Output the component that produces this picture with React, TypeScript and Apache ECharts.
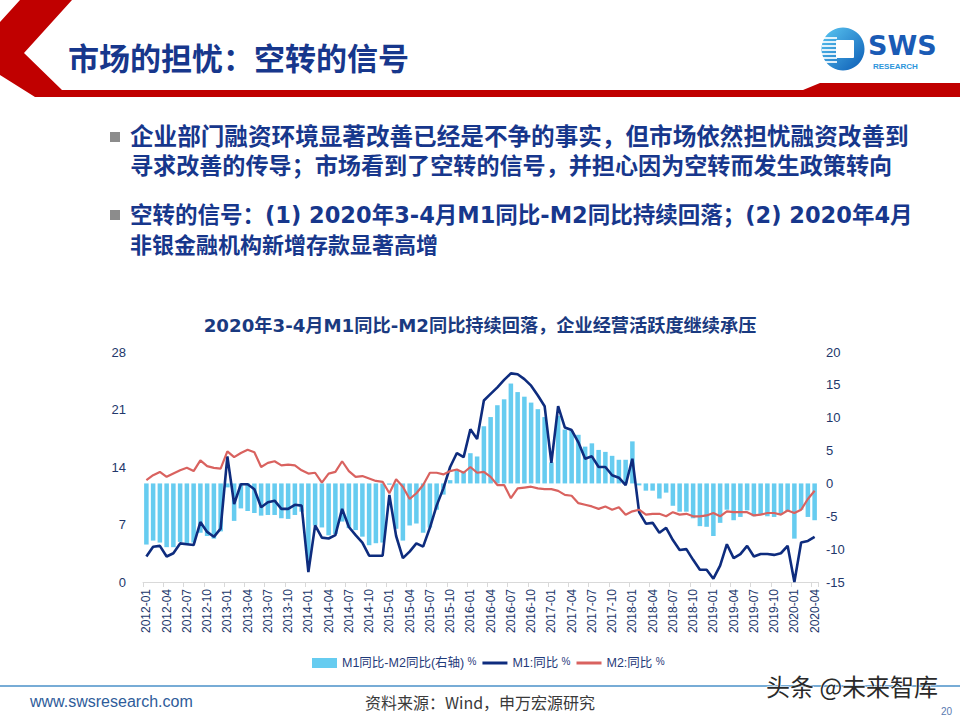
import React, { useEffect, useRef } from "react";
import * as echarts from "echarts";

// Month labels 2012-01 … 2020-04
const months: string[] = [];
for (let y = 2012; y <= 2020; y++) {
  for (let m = 1; m <= 12; m++) {
    if (y === 2020 && m > 4) break;
    months.push(`${y}-${String(m).padStart(2, "0")}`);
  }
}

// M1 同比 (%)
const m1Yoy: number[] = [
  3.1, 4.3, 4.4, 3.1, 3.5, 4.7, 4.6, 4.5, 7.3, 6.1, 5.5, 6.5,
  15.3, 9.5, 11.9, 11.9, 11.3, 9.1, 9.7, 9.9, 8.9, 8.9, 9.4, 9.3,
  1.2, 6.9, 5.4, 5.3, 5.7, 8.9, 6.7, 5.7, 4.8, 3.2, 3.2, 3.2,
  10.6, 5.6, 2.9, 3.7, 4.7, 4.3, 6.6, 9.3, 11.4, 14.0, 15.7, 15.2,
  18.6, 17.4, 22.1, 22.9, 23.7, 24.6, 25.4, 25.3, 24.7, 23.9, 22.7, 21.4,
  14.5, 21.4, 18.8, 18.5, 17.0, 15.0, 15.3, 14.0, 14.0, 13.0, 12.7, 11.8,
  15.0, 8.5, 7.1, 7.2, 6.0, 6.6, 5.1, 3.9, 4.0, 2.7, 1.5, 1.5,
  0.4, 2.0, 4.6, 2.9, 3.4, 4.4, 3.1, 3.4, 3.4, 3.3, 3.5, 4.4,
  0.0, 4.8, 5.0, 5.5,
];

// M2 同比 (%)
const m2Yoy: number[] = [
  12.4, 13.0, 13.4, 12.8, 13.2, 13.6, 13.9, 13.5, 14.8, 14.1, 13.9, 13.8,
  15.9, 15.2, 15.7, 16.1, 15.8, 14.0, 14.5, 14.7, 14.2, 14.3, 14.2, 13.6,
  13.2, 13.3, 12.1, 13.2, 13.4, 14.7, 13.5, 12.8, 12.9, 12.6, 12.3, 12.2,
  10.8, 12.5, 11.6, 10.1, 10.8, 11.8, 13.3, 13.3, 13.1, 13.5, 13.7, 13.3,
  14.0, 13.3, 13.4, 12.8, 11.8, 11.8, 10.2, 11.4, 11.5, 11.6, 11.4, 11.3,
  11.3, 11.1, 10.6, 10.5, 9.6, 9.4, 9.2, 8.9, 9.2, 8.8, 9.1, 8.2,
  8.6, 8.8, 8.2, 8.3, 8.3, 8.0, 8.5, 8.2, 8.3, 8.0, 8.0, 8.1,
  8.4, 8.0, 8.6, 8.5, 8.5, 8.5, 8.1, 8.2, 8.4, 8.4, 8.2, 8.7,
  8.4, 8.8, 10.1, 11.1,
];

// M1同比 - M2同比 (右轴, %)
const m1m2Gap: number[] = [
  -9.3, -8.7, -9.0, -9.7, -9.7, -8.9, -9.3, -9.0, -7.5, -8.0, -8.4, -7.3,
  -0.6, -5.7, -3.8, -4.2, -4.5, -4.9, -4.8, -4.8, -5.3, -5.4, -4.8, -4.3,
  -12.0, -6.4, -6.7, -7.9, -7.7, -5.8, -6.8, -7.1, -8.1, -9.4, -9.1, -9.0,
  -0.2, -6.9, -8.7, -6.4, -6.1, -7.5, -6.7, -4.0, -1.7, 0.5, 2.0, 1.9,
  4.6, 4.1, 8.7, 10.1, 11.9, 12.8, 15.2, 13.9, 13.2, 12.3, 11.3, 10.1,
  3.2, 10.3, 8.2, 8.0, 7.4, 5.6, 6.1, 5.1, 4.8, 4.2, 3.6, 3.6,
  6.4, -0.3, -1.1, -1.1, -2.3, -1.4, -3.4, -4.3, -4.3, -5.3, -6.5, -6.6,
  -8.0, -6.0, -4.0, -5.6, -5.1, -4.1, -5.0, -4.8, -5.0, -5.1, -4.7, -4.3,
  -8.4, -4.0, -5.1, -5.6,
];

const leftTicks = { min: 0, max: 28, interval: 7 };
const rightTicks = { min: -15, max: 20, interval: 5 };

const seriesNames = ["M1同比-M2同比(右轴)", "M1:同比", "M2:同比"];

const pageTitle = "市场的担忧：空转的信号";
const bulletLines = [
  "企业部门融资环境显著改善已经是不争的事实，但市场依然担忧融资改善到",
  "寻求改善的传导；市场看到了空转的信号，并担心因为空转而发生政策转向",
  "空转的信号：(1) 2020年3-4月M1同比-M2同比持续回落；(2) 2020年4月",
  "非银金融机构新增存款显著高增",
];
const chartTitle = "2020年3-4月M1同比-M2同比持续回落，企业经营活跃度继续承压";

const NAVY = "#17378C";
const AXIS_TXT = "#22376B";
const BAR_BLUE = "#66CCF0";
const M1_BLUE = "#0E2C7E";
const M2_RED = "#D9625F";
const FONT_CJK = '"Noto Sans CJK SC", sans-serif';
const FONT_WIDE = '"DejaVu Sans", "Noto Sans CJK SC", sans-serif';
const FONT_LAT = '"Liberation Sans", Arial, "Noto Sans CJK SC", sans-serif';
const LINE_ICON = "path://M0,0H25V3H0Z";

export default function App() {
  const ref = useRef<HTMLDivElement>(null);

  useEffect(() => {
    if (!ref.current) return;
    const chart = echarts.init(ref.current, undefined, { renderer: "svg" });

    // bullet paragraphs: the wrapped lines are spread to the text block width
    const bulletYs = [137, 166, 215, 245];
    const bulletSizes = [23.6, 23.1, 22.5, 22];
    const bulletGraphics: any[] = [];
    [0, 2].forEach((i) => {
      bulletGraphics.push({
        type: "rect",
        shape: { x: 110, y: bulletYs[i] - 5, width: 10, height: 10 },
        style: { fill: "#8C8C8C" },
      });
    });
    bulletLines.forEach((t, i) => {
      bulletGraphics.push({
        type: "text",
        x: 130,
        y: bulletYs[i],
        style: {
          text: t,
          fill: NAVY,
          fontSize: bulletSizes[i],
          lineHeight: 26,
          fontWeight: "bold",
          fontFamily: FONT_WIDE,
          verticalAlign: "middle",
        },
      });
    });

    const stripes: any[] = [];
    [37, 41, 45, 49, 53, 57, 61].forEach((yy) => {
      stripes.push({
        type: "rect",
        shape: { x: 822, y: yy, width: 15, height: 2 },
        style: { fill: "rgba(255,255,255,0.85)" },
      });
    });

    chart.setOption({
      animation: false,
      backgroundColor: "#ffffff",
      title: {
        text: chartTitle,
        left: "center",
        top: 311,
        textStyle: {
          color: "#1A3A80",
          fontSize: 18.2,
          fontWeight: "bold",
          fontFamily: FONT_WIDE,
        },
      },
      legend: {
        left: 307,
        top: 651,
        itemWidth: 25,
        itemHeight: 10,
        itemGap: 6,
        data: [
          { name: seriesNames[0], icon: "rect" },
          { name: seriesNames[1], icon: LINE_ICON },
          { name: seriesNames[2], icon: LINE_ICON },
        ],
        formatter: (name: string) => `{n|${name}} {p|%}`,
        textStyle: {
          color: "#1F3A7A",
          fontFamily: FONT_LAT,
          rich: {
            n: { fontSize: 12.5, color: "#1F3A7A", fontFamily: FONT_LAT },
            p: { fontSize: 10, color: "#1F3A7A", fontFamily: FONT_LAT, padding: [0, 0, 4, 0] },
          },
        },
      },
      grid: { left: 143, right: 142, top: 352, bottom: 138, containLabel: false },
      xAxis: {
        type: "category",
        data: months,
        boundaryGap: true,
        axisLine: { show: true, lineStyle: { color: "#D9D9D9", width: 1 } },
        axisTick: {
          show: true,
          interval: 2,
          length: 5,
          lineStyle: { color: "#D9D9D9" },
        },
        axisLabel: {
          interval: 2,
          rotate: 90,
          margin: 7,
          color: AXIS_TXT,
          fontSize: 12,
          fontFamily: FONT_LAT,
        },
        splitLine: { show: false },
      },
      yAxis: [
        {
          type: "value",
          position: "left",
          min: leftTicks.min,
          max: leftTicks.max,
          interval: leftTicks.interval,
          axisLine: { show: false },
          axisTick: { show: false },
          splitLine: { show: false },
          axisLabel: { color: AXIS_TXT, fontSize: 13, margin: 17, fontFamily: FONT_LAT },
        },
        {
          type: "value",
          position: "right",
          min: rightTicks.min,
          max: rightTicks.max,
          interval: rightTicks.interval,
          axisLine: { show: false },
          axisTick: { show: false },
          splitLine: { show: false },
          axisLabel: { color: AXIS_TXT, fontSize: 13, margin: 8, fontFamily: FONT_LAT },
        },
      ],
      series: [
        {
          name: seriesNames[0],
          type: "bar",
          yAxisIndex: 1,
          data: m1m2Gap,
          barCategoryGap: "33%",
          itemStyle: { color: BAR_BLUE },
        },
        {
          name: seriesNames[1],
          type: "line",
          yAxisIndex: 0,
          data: m1Yoy,
          symbol: "none",
          showSymbol: false,
          lineStyle: { color: M1_BLUE, width: 2.6 },
          itemStyle: { color: M1_BLUE },
        },
        {
          name: seriesNames[2],
          type: "line",
          yAxisIndex: 0,
          data: m2Yoy,
          symbol: "none",
          showSymbol: false,
          lineStyle: { color: M2_RED, width: 2.2 },
          itemStyle: { color: M2_RED },
        },
      ],
      graphic: [
        // red chevron and header band
        {
          type: "polygon",
          shape: {
            points: [
              [20, 0], [72, 0], [24, 53], [62, 90], [803, 90], [820, 83],
              [960, 83], [960, 97], [35, 97], [0, 75], [0, 22],
            ],
          },
          style: { fill: "#C00000" },
        },
        {
          type: "text",
          x: 68,
          y: 56,
          style: {
            text: pageTitle,
            fill: NAVY,
            fontSize: 31,
            fontWeight: "bold",
            fontFamily: FONT_CJK,
            verticalAlign: "middle",
          },
        },
        // SWS logo
        {
          type: "circle",
          shape: { cx: 843, cy: 49, r: 21.5 },
          style: {
            fill: new echarts.graphic.LinearGradient(0, 0, 1, 1, [
              { offset: 0, color: "#5CC8F2" },
              { offset: 1, color: "#0B5BB5" },
            ]),
          },
        },
        ...stripes,
        {
          type: "rect",
          shape: { x: 836, y: 40, width: 18, height: 18, r: 1 },
          style: { fill: "#ffffff" },
        },
        {
          type: "text",
          x: 868,
          y: 45,
          style: {
            text: "SWS",
            fill: "#1A5BB5",
            fontSize: 27,
            fontWeight: "bold",
            fontFamily: '"DejaVu Sans", sans-serif',
            verticalAlign: "middle",
          },
        },
        {
          type: "text",
          x: 873,
          y: 66,
          style: {
            text: "RESEARCH",
            fill: "#2D95DB",
            fontSize: 8,
            fontWeight: "bold",
            fontFamily: FONT_LAT,
            verticalAlign: "middle",
          },
        },
        ...bulletGraphics,
        // footer
        {
          type: "line",
          shape: { x1: 0, y1: 686, x2: 960, y2: 686 },
          style: { stroke: "#4A90C8", lineWidth: 1.5 },
        },
        {
          type: "text",
          x: 30,
          y: 701,
          style: {
            text: "www.swsresearch.com",
            fill: "#2E5C9A",
            fontSize: 16,
            fontFamily: FONT_LAT,
            verticalAlign: "middle",
          },
        },
        {
          type: "text",
          x: 480,
          y: 702,
          style: {
            text: "资料来源：Wind，申万宏源研究",
            fill: "#3A3A3A",
            fontSize: 16,
            fontFamily: FONT_CJK,
            align: "center",
            verticalAlign: "middle",
          },
        },
        {
          type: "text",
          x: 941,
          y: 711,
          style: {
            text: "20",
            fill: "#5A7AB0",
            fontSize: 10,
            fontFamily: FONT_LAT,
            verticalAlign: "middle",
          },
        },
        {
          type: "text",
          x: 766,
          y: 685,
          style: {
            text: "头条 @未来智库",
            fill: "#2A2A2A",
            fontSize: 24,
            fontFamily: FONT_CJK,
            verticalAlign: "middle",
            stroke: "#ffffff",
            lineWidth: 1,
          },
        },
      ],
    });

    return () => chart.dispose();
  }, []);

  return (
    <div
      ref={ref}
      style={{ position: "absolute", left: 0, top: 0, width: 960, height: 720 }}
    />
  );
}
